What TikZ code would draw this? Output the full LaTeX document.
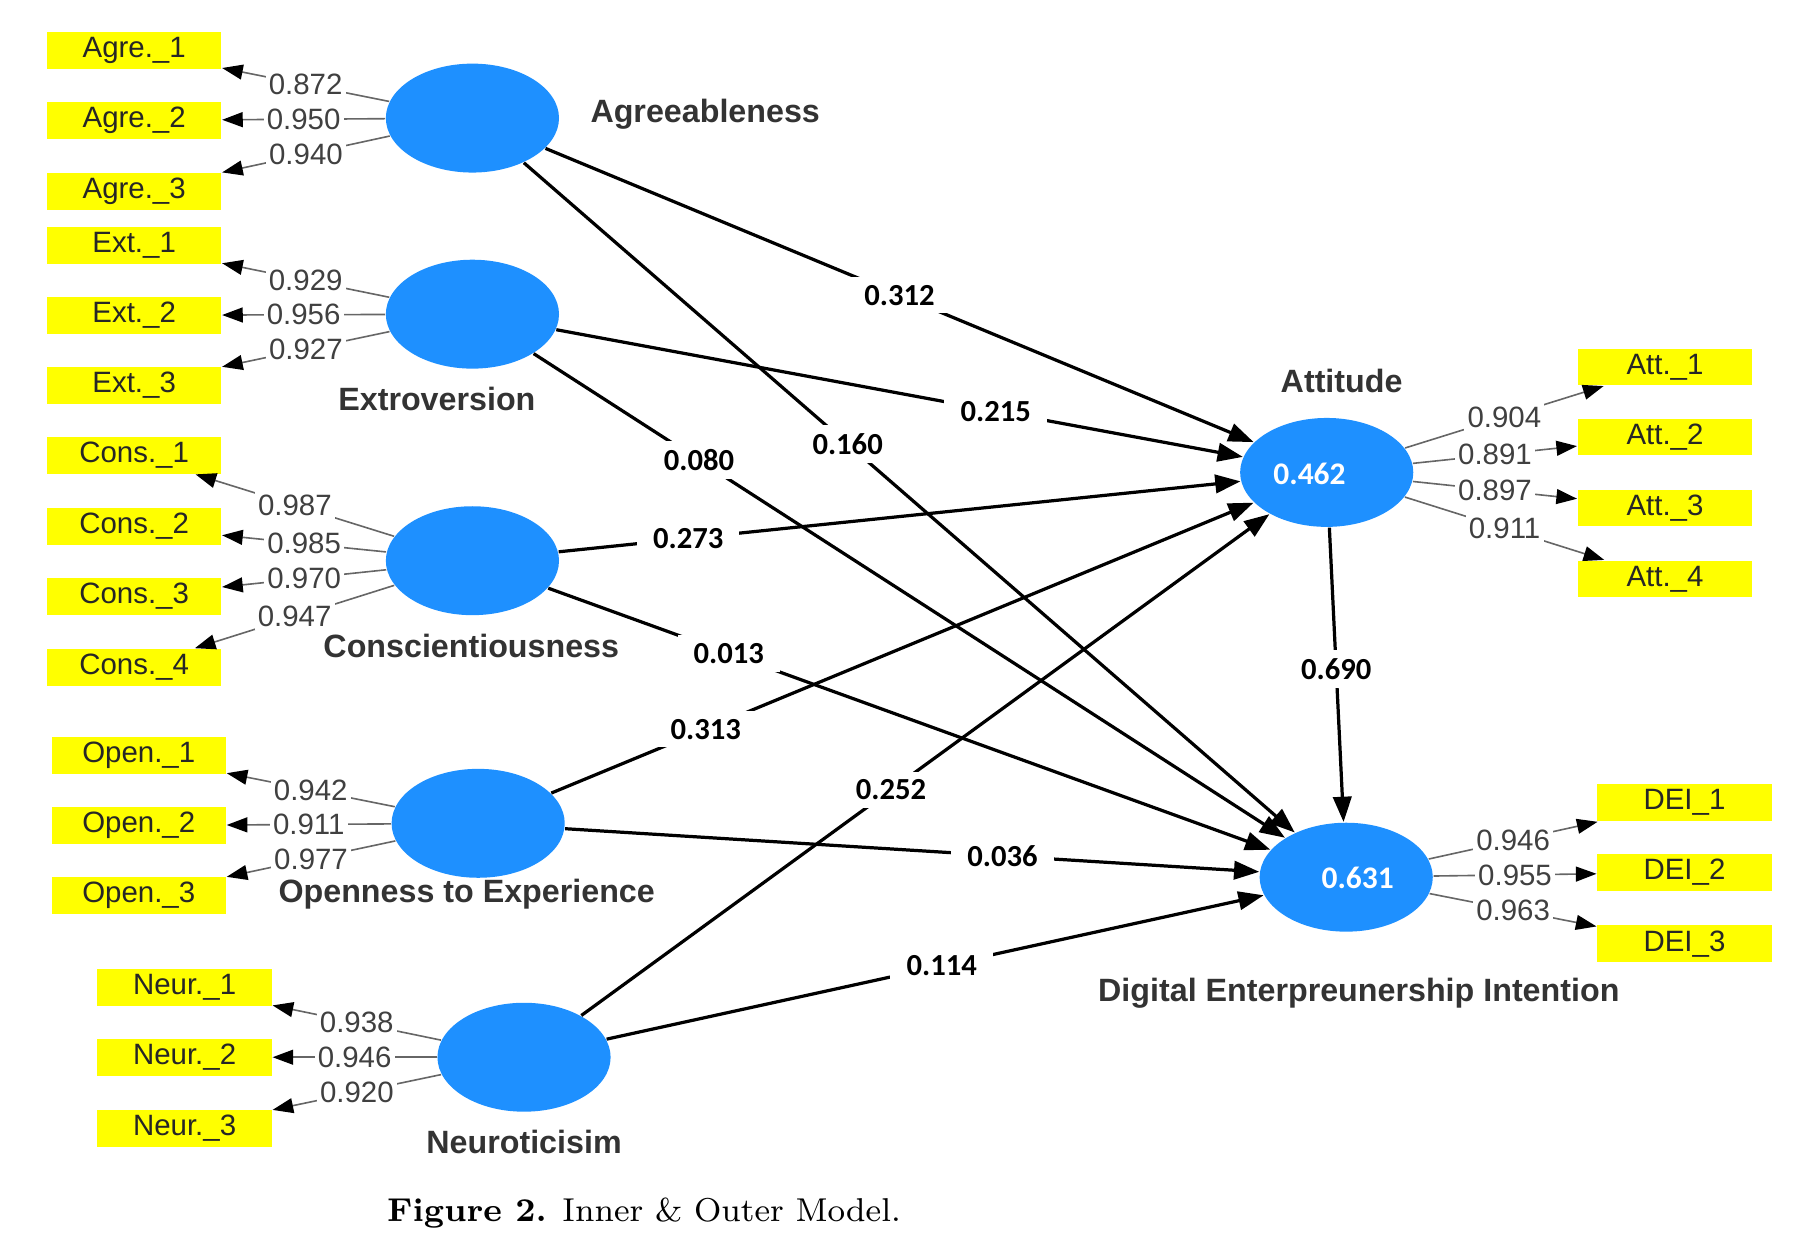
\documentclass[tikz,border=0pt]{standalone}
\usepackage{fontspec}
\setsansfont{Liberation Sans}
\newfontfamily\coeffont{Carlito}
\usetikzlibrary{arrows.meta,shapes.geometric}
\definecolor{plsblue}{RGB}{30,144,255}
\definecolor{plsyellow}{RGB}{255,255,0}
\tikzset{
  latent/.style={ellipse, fill=plsblue, minimum width=15.1mm, minimum height=9.5mm, inner sep=0pt},
  indicator/.style={rectangle, fill=plsyellow, minimum width=15.2mm, minimum height=3.2mm, inner sep=0pt,
    font=\sffamily\fontsize{7.3}{8}\selectfont, text=black!85},
  conlabel/.style={font=\sffamily\bfseries\fontsize{8}{9}\selectfont, text=black!80},
  innerarrow/.style={draw=black, line width=0.8pt, -{Triangle[length=2.2mm,width=1.6mm]}},
  loadarrow/.style={draw=black!60, line width=0.4pt, -{Triangle[length=1.8mm,width=1.3mm,color=black]}},
  coef/.style={fill=white, inner xsep=4pt, inner ysep=2pt, font=\coeffont\bfseries\fontsize{7.6}{8}\selectfont},
  loading/.style={fill=white, inner sep=0.8pt, font=\sffamily\fontsize{7.3}{8}\selectfont, text=black!75},
  rsq/.style={text=white, font=\coeffont\bfseries\fontsize{7.8}{8}\selectfont}
}
\begin{document}
\begin{tikzpicture}[x=0.1mm, y=-0.1mm]
\useasboundingbox (0,0) rectangle (1568,1097);

% latent variables
\node[latent] (agre) at (412,103) {};
\node[latent] (ext)  at (412,274) {};
\node[latent] (cons) at (412,489) {};
\node[latent] (open) at (417,718) {};
\node[latent] (neur) at (457,922) {};
\node[latent] (att)  at (1157,412) {};
\node[latent] (dei)  at (1174,765) {};
\node[rsq] (attval) at (1142,413) {0.462};
\node[rsq] (deival) at (1184,766) {0.631};

% construct names
\node[conlabel] (agrename) at (615,100) {Agreeableness};
\node[conlabel] (extname)  at (381,348) {Extroversion};
\node[conlabel] (consname) at (411,563) {Conscientiousness};
\node[conlabel] (openname) at (407,780) {Openness to Experience};
\node[conlabel] (neurname) at (457,996) {Neuroticisim};
\node[conlabel] (attname)  at (1170,332) {Attitude};
\node[conlabel] (deiname)  at (1185,866) {Digital Enterpreunership Intention};

% indicators
\foreach \n/\y in {1/44,2/105,3/167}
  \node[indicator] (agre\n) at (117,\y) {Agre.\_\n};
\foreach \n/\y in {1/214,2/275,3/336}
  \node[indicator] (ext\n) at (117,\y) {Ext.\_\n};
\foreach \n/\y in {1/397,2/459,3/520,4/582}
  \node[indicator] (cons\n) at (117,\y) {Cons.\_\n};
\foreach \n/\y in {1/659,2/720,3/781}
  \node[indicator] (open\n) at (121,\y) {Open.\_\n};
\foreach \n/\y in {1/861,2/922,3/984}
  \node[indicator] (neur\n) at (161,\y) {Neur.\_\n};
\foreach \n/\y in {1/320,2/381,3/443,4/505}
  \node[indicator] (att\n) at (1452,\y) {Att.\_\n};
\foreach \n/\y in {1/700,2/761,3/823}
  \node[indicator] (dei\n) at (1469,\y) {DEI\_\n};

% outer loadings
\foreach \n/\v in {1/0.872,2/0.950,3/0.940}
  \draw[loadarrow] (agre) -- node[loading] {\v} (agre\n);
\foreach \n/\v in {1/0.929,2/0.956,3/0.927}
  \draw[loadarrow] (ext) -- node[loading] {\v} (ext\n);
\foreach \n/\v in {1/0.987,2/0.985,3/0.970,4/0.947}
  \draw[loadarrow] (cons) -- node[loading] {\v} (cons\n);
\foreach \n/\v in {1/0.942,2/0.911,3/0.977}
  \draw[loadarrow] (open) -- node[loading] {\v} (open\n);
\foreach \n/\v in {1/0.938,2/0.946,3/0.920}
  \draw[loadarrow] (neur) -- node[loading] {\v} (neur\n);
\foreach \n/\v in {1/0.904,2/0.891,3/0.897,4/0.911}
  \draw[loadarrow] (att) -- node[loading] {\v} (att\n);
\foreach \n/\v in {1/0.946,2/0.955,3/0.963}
  \draw[loadarrow] (dei) -- node[loading] {\v} (dei\n);

% inner model
\draw[innerarrow] (agre) -- node[coef, pos=0.5]  {0.312} (att);
\draw[innerarrow] (agre) -- node[coef, pos=0.42] {0.160} (dei);
\draw[innerarrow] (ext)  -- node[coef, pos=0.64] {0.215} (att);
\draw[innerarrow] (ext)  -- node[coef, pos=0.22] {0.080} (dei);
\draw[innerarrow] (cons) -- node[coef, pos=0.19] {0.273} (att);
\draw[innerarrow] (cons) -- node[coef, pos=0.25] {0.013} (dei);
\draw[innerarrow] (open) -- node[coef, pos=0.22] {0.313} (att);
\draw[innerarrow] (open) -- node[coef, pos=0.63] {0.036} (dei);
\draw[innerarrow] (neur) -- node[coef, pos=0.45] {0.252} (att);
\draw[innerarrow] (neur) -- node[coef, pos=0.51] {0.114} (dei);
\draw[innerarrow] (att)  -- node[coef, pos=0.48] {0.690} (dei);

% caption
\node[anchor=west, inner sep=0pt, font=\fontsize{8.2}{10}\selectfont] (caption) at (337,1058)
  {\textbf{Figure 2.} Inner \& Outer Model.};
\end{tikzpicture}
\end{document}
